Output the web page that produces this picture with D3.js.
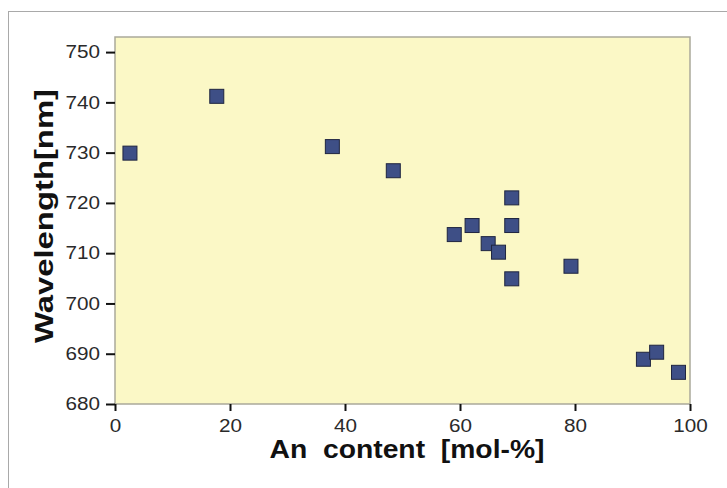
<!DOCTYPE html>
<html>
<head>
<meta charset="utf-8">
<script src="https://cdn.jsdelivr.net/npm/d3@7"></script>
<style>
  body { margin: 0; background: #fff; }
  .tick text { font-family: "Liberation Sans", Arial, sans-serif; font-size: 18px; fill: #2a2a2a; }
  .title { font-family: "Liberation Sans", Arial, sans-serif; font-weight: bold; font-size: 26px; fill: #111; white-space: pre; }
</style>
</head>
<body>
<script>
// An content [mol-%] vs wavelength [nm]
var anContent  = [2.6, 17.7, 37.8, 48.4, 59.0, 62.1, 64.9, 66.7, 69.0, 69.0, 69.0, 79.3, 91.9, 94.2, 98.0]
var wavelength = [729.9, 741.2, 731.2, 726.4, 713.7, 715.5, 711.9, 710.2, 721.0, 715.5, 704.9, 707.4, 688.9, 690.3, 686.3]
var xTicks = [0, 20, 40, 60, 80, 100]
var yTicks = [680, 690, 700, 710, 720, 730, 740, 750]

var svg = d3.select("body").append("svg").attr("width", 727).attr("height", 488)

// outer frame
svg.append("rect")
  .attr("x", 8.5).attr("y", 11.5)
  .attr("width", 740).attr("height", 500)
  .attr("fill", "none").attr("stroke", "#a9a9a9")

var plotLeft = 115, plotRight = 690, plotTop = 37, plotBottom = 404

var x = d3.scaleLinear().domain([0, 100]).range([plotLeft, plotRight])
var y = d3.scaleLinear().domain([680, 753]).range([plotBottom, plotTop])

svg.append("rect")
  .attr("x", plotLeft).attr("y", plotTop)
  .attr("width", plotRight - plotLeft).attr("height", plotBottom - plotTop)
  .attr("fill", "#fbf8c6").attr("stroke", "#aaa99a").attr("stroke-width", 1.5)

var yAxis = svg.append("g")
  .attr("transform", "translate(" + plotLeft + ",0)")
  .call(d3.axisLeft(y).tickValues(yTicks).tickSize(9).tickPadding(6))
yAxis.select(".domain").remove()
yAxis.selectAll(".tick line").attr("stroke", "#111").attr("stroke-width", 2)

var xAxis = svg.append("g")
  .attr("transform", "translate(0," + plotBottom + ")")
  .call(d3.axisBottom(x).tickValues(xTicks).tickSize(7).tickPadding(8))
xAxis.select(".domain").remove()
xAxis.selectAll(".tick line").attr("stroke", "#111").attr("stroke-width", 2)

// labels in the picture are a little wider than the font
svg.selectAll(".tick text")
  .attr("textLength", function() { return this.textContent.length * 11.5 })
  .attr("lengthAdjust", "spacingAndGlyphs")

// points
var pts = d3.zip(anContent, wavelength)
var size = 14
svg.selectAll("rect.pt")
  .data(pts)
  .enter()
  .append("rect")
  .attr("class", "pt")
  .attr("x", function(d) { return x(d[0]) - size / 2 })
  .attr("y", function(d) { return y(d[1]) - size / 2 })
  .attr("width", size).attr("height", size)
  .attr("fill", "#3e4f86")
  .attr("stroke", "#1f2540").attr("stroke-width", 1)

svg.append("text")
  .attr("class", "title")
  .attr("text-anchor", "middle")
  .attr("transform", "translate(53,216) rotate(-90)")
  .attr("textLength", 254).attr("lengthAdjust", "spacingAndGlyphs")
  .text("Wavelength[nm]")

svg.append("text")
  .attr("class", "title")
  .attr("text-anchor", "middle")
  .attr("x", 407).attr("y", 458)
  .attr("textLength", 275).attr("lengthAdjust", "spacingAndGlyphs")
  .text("An  content  [mol-%]")
</script>
</body>
</html>
